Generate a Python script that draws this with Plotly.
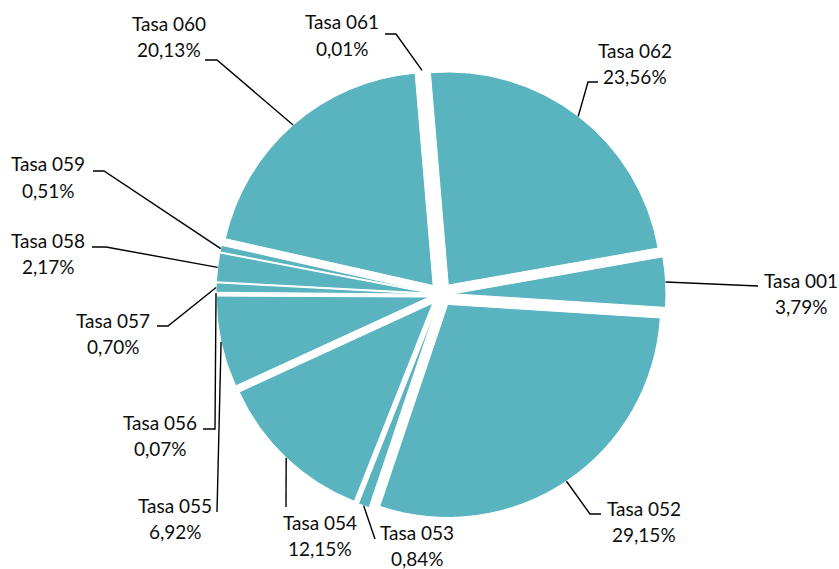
import math
import plotly.graph_objects as go

# Slice data (clockwise order starting at Tasa 001)
names = ["Tasa 001", "Tasa 052", "Tasa 053", "Tasa 054", "Tasa 055", "Tasa 056",
         "Tasa 057", "Tasa 058", "Tasa 059", "Tasa 060", "Tasa 061", "Tasa 062"]
values = [3.79, 29.15, 0.84, 12.15, 6.92, 0.07, 0.70, 2.17, 0.51, 20.13, 0.01, 23.56]

# Label placement in pixels: centre x and y of the first text line
label_x = [801, 644, 417, 320, 175, 160, 113, 48, 48, 169, 342, 635]
label_y = [280, 508, 532, 522, 505, 422, 320, 240, 164, 23, 22, 50]

# Leader-line bend points (pixels), drawn after the slice anchor
leader_pts = [
    [(758, 286)],
    [(590, 514), (601, 514)],
    [(375, 539)],
    [(286, 507)],
    [(217, 512)],
    [(215, 429), (203, 429)],
    [(168, 326), (157, 326)],
    [(106, 247), (92, 247)],
    [(104, 171), (93, 171)],
    [(217, 60), (205, 60)],
    [(396, 34), (385, 34)],
    [(588, 82), (598, 82)],
]

W, H = 839, 569
CX, CY, HALF = 441.0, 294.5, 225.0      # pie centre and half-size of its domain
PULL = 0.056
ROTATION = 80
TEAL = "#5AB4BF"
FONT = "Lato"
LINE_GAP = 26

# plotly sizes the pie as half the domain divided by (1 + max pull)
R = HALF / (1 + PULL)

dom_x = [(CX - HALF) / W, (CX + HALF) / W]
dom_y = [1 - (CY + HALF) / H, 1 - (CY - HALF) / H]


def px(x):
    return x / W


def py(y):
    return 1 - y / H


fig = go.Figure(go.Pie(
    labels=names,
    values=values,
    sort=False,
    direction="clockwise",
    rotation=ROTATION,
    pull=PULL,
    marker=dict(colors=[TEAL] * len(values), line=dict(color="white", width=1)),
    textinfo="none",
    hoverinfo="label+percent",
    domain=dict(x=dom_x, y=dom_y),
    showlegend=False,
))

total = sum(values)
shapes, annotations = [], []
start = ROTATION
for i, v in enumerate(values):
    span = 360.0 * v / total
    mid = math.radians(start + span / 2)
    start += span
    # centre of the pulled-out slice, then the point on its outer arc
    ox = CX + PULL * R * math.sin(mid)
    oy = CY - PULL * R * math.cos(mid)
    ax = ox + R * math.sin(mid)
    ay = oy - R * math.cos(mid)
    pts = [(ax, ay)] + leader_pts[i]
    path = "M " + " L ".join(f"{px(x):.5f},{py(y):.5f}" for x, y in pts)
    shapes.append(dict(type="path", xref="paper", yref="paper", path=path,
                       line=dict(color="black", width=1.4)))
    pct = f"{v:.2f}".replace(".", ",") + "%"
    for txt, yy in ((names[i], label_y[i]), (pct, label_y[i] + LINE_GAP)):
        annotations.append(dict(
            x=px(label_x[i]), y=py(yy), xref="paper", yref="paper",
            text=txt, showarrow=False, xanchor="center", yanchor="middle",
            font=dict(family=FONT, size=19, color="#0d0d0d"),
        ))

fig.update_layout(
    width=W, height=H,
    margin=dict(l=0, r=0, t=0, b=0),
    paper_bgcolor="white",
    plot_bgcolor="white",
    shapes=shapes,
    annotations=annotations,
)

fig.write_html("out.html")
